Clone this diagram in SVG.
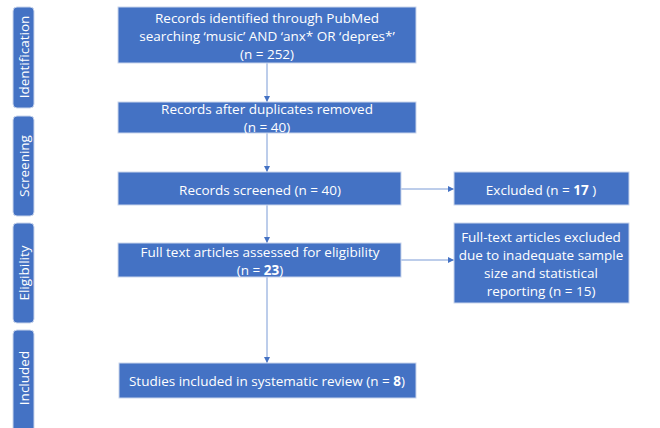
<svg xmlns="http://www.w3.org/2000/svg" width="660" height="428" viewBox="0 0 660 428">
<defs>
<style>
.box{fill:#4472C4;stroke:#C9D5EC;stroke-width:1}
.side{fill:#4472C4;stroke:#C9D5EC;stroke-width:1}
text{font-family:"Open Sans","Liberation Sans",sans-serif;fill:#ffffff;font-size:13.5px;text-anchor:middle;dominant-baseline:central}
.conn{stroke:#7A9BD6;stroke-width:1;fill:none;marker-end:url(#ah)}
</style>
<marker id="ah" viewBox="0 0 6 6" refX="6" refY="3" markerWidth="6" markerHeight="6" orient="auto" markerUnits="userSpaceOnUse">
<path d="M0,0 L6,3 L0,6 z" fill="#4472C4"/>
</marker>
</defs>
<rect width="660" height="428" fill="#ffffff"/>
<g id="phase-identification"><rect class="side" x="13" y="7" width="21" height="101" rx="4"/><text transform="translate(24,57) rotate(-90)">Identification</text></g>
<g id="phase-screening"><rect class="side" x="13" y="116" width="21" height="100" rx="4"/><text transform="translate(24,166) rotate(-90)">Screening</text></g>
<g id="phase-eligibility"><rect class="side" x="13" y="223" width="21" height="100" rx="4"/><text transform="translate(24,273) rotate(-90)">Eligibility</text></g>
<g id="phase-included"><rect class="side" x="13" y="330" width="21" height="110" rx="4"/><text transform="translate(24,378) rotate(-90)">Included</text></g>
<g id="connectors">
<line class="conn" x1="267" y1="63" x2="267" y2="102"/>
<line class="conn" x1="267" y1="133" x2="267" y2="172"/>
<line class="conn" x1="267" y1="205" x2="267" y2="243"/>
<line class="conn" x1="267" y1="277" x2="267" y2="363"/>
<line class="conn" x1="401" y1="189" x2="454" y2="189"/>
<line class="conn" x1="401" y1="260" x2="454" y2="260"/>
</g>
<g id="n1"><rect class="box" x="118" y="7" width="298" height="56"/>
<text x="267" y="18">Records identified through PubMed</text>
<text x="267" y="36">searching ‘music’ AND ‘anx* OR ‘depres*’</text>
<text x="267" y="54">(n = 252)</text></g>
<g id="n2"><rect class="box" x="118" y="102" width="298" height="31"/>
<text x="267" y="109">Records after duplicates removed</text>
<text x="267" y="127">(n = 40)</text></g>
<g id="n3"><rect class="box" x="118" y="172" width="283" height="33"/>
<text x="260" y="190">Records screened (n = 40)</text></g>
<g id="n4"><rect class="box" x="454" y="172" width="175" height="33"/>
<text x="541" y="190">Excluded (n = <tspan font-weight="bold">17</tspan> )</text></g>
<g id="n5"><rect class="box" x="118" y="243" width="283" height="34"/>
<text x="260" y="252">Full text articles assessed for eligibility</text>
<text x="260" y="270">(n = <tspan font-weight="bold">23</tspan>)</text></g>
<g id="n6"><rect class="box" x="454" y="223" width="175" height="80"/>
<text x="541" y="237">Full-text articles excluded</text>
<text x="541" y="255">due to inadequate sample</text>
<text x="541" y="273">size and statistical</text>
<text x="541" y="291">reporting (n = 15)</text></g>
<g id="n7"><rect class="box" x="119" y="363" width="297" height="35"/>
<text x="267" y="381">Studies included in systematic review (n = <tspan font-weight="bold">8</tspan>)</text></g>
</svg>
